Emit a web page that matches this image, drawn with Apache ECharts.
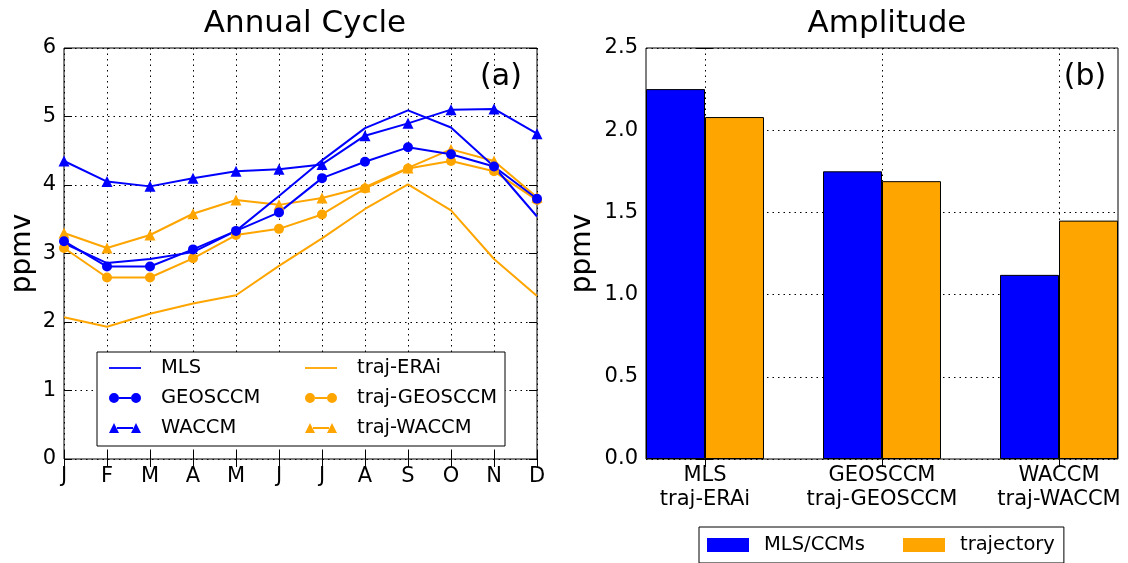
<!DOCTYPE html>
<html>
<head>
<meta charset="utf-8">
<script src="https://cdn.jsdelivr.net/npm/echarts@6/dist/echarts.min.js"></script>
<style>
html,body{margin:0;padding:0;background:#fff;}
#chart{width:1128px;height:563px;}
</style>
</head>
<body>
<div id="chart"></div>
<script>
// ---- data ----
const months = ['J','F','M','A','M','J','J','A','S','O','N','D'];
const mls          = [3.15, 2.86, 2.92, 3.02, 3.33, 3.84, 4.36, 4.83, 5.09, 4.84, 4.27, 3.54];
const geosccm      = [3.18, 2.81, 2.81, 3.06, 3.33, 3.60, 4.10, 4.34, 4.55, 4.45, 4.27, 3.80];
const waccm        = [4.35, 4.05, 3.98, 4.10, 4.20, 4.23, 4.30, 4.72, 4.90, 5.10, 5.11, 4.75];
const trajERAi     = [2.07, 1.93, 2.12, 2.27, 2.39, 2.82, 3.22, 3.65, 4.01, 3.63, 2.92, 2.38];
const trajGEOSCCM  = [3.08, 2.65, 2.65, 2.93, 3.27, 3.36, 3.57, 3.95, 4.24, 4.35, 4.20, 3.78];
const trajWACCM    = [3.30, 3.08, 3.27, 3.58, 3.78, 3.71, 3.81, 3.97, 4.25, 4.52, 4.35, 3.82];

const ampCategories = ['MLS\ntraj-ERAi', 'GEOSCCM\ntraj-GEOSCCM', 'WACCM\ntraj-WACCM'];
const ampModels     = [2.25, 1.75, 1.12];
const ampTrajectory = [2.08, 1.69, 1.45];

const leftYTicks = [0, 6, 1];      // min, max, step
const rightYTicks = [0, 2.5, 0.5]; // min, max, step

// ---- styles ----
const FONT = 'DejaVu Sans';
const BLUE = '#0000ff';
const ORANGE = '#ffa500';
const gridLine = {show: true, lineStyle: {color: '#000', width: 1, type: [1.5, 4]}};
const tickIn = {show: true, inside: true, length: 8, lineStyle: {color: '#000', width: 1}};
const lbl = {color: '#000', fontFamily: FONT, fontSize: 21};
const bigText = {fontFamily: FONT, fontSize: 31, fontWeight: 'normal', color: '#000'};
const LEG = 19.5;

// legend icons (line with a marker at each end, like matplotlib)
const ICON_LINE = 'path://M0,0M0,12M0,5.1L32,5.1L32,6.9L0,6.9Z';
const ICON_CIRCLE = 'path://M0,0M0,12M0,6a5,5 0 1,0 10,0a5,5 0 1,0 -10,0ZM22,6a5,5 0 1,0 10,0a5,5 0 1,0 -10,0ZM10,5.1L22,5.1L22,6.9L10,6.9Z';
const ICON_TRI = 'path://M0,0M0,12M0,11L5,1L10,11ZM22,11L27,1L32,11ZM8,5.1L24,5.1L24,6.9L8,6.9Z';

const chart = echarts.init(document.getElementById('chart'), null, {renderer: 'canvas'});

function lineSeries(name, data, color, symbol) {
  return {
    name: name, type: 'line', xAxisIndex: 0, yAxisIndex: 0, data: data,
    symbol: symbol || 'none', symbolSize: symbol === 'triangle' ? 11 : 10,
    showSymbol: !!symbol,
    lineStyle: {color: color, width: 2},
    itemStyle: {color: color},
    emphasis: {disabled: true},
    animation: false
  };
}

const ampIdx = ampCategories.map((_, i) => i);
const rt = (extra) => Object.assign({fontFamily: FONT, fontSize: LEG, lineHeight: 22, color: '#000'}, extra);

const option = {
  animation: false,
  backgroundColor: '#fff',
  textStyle: {fontFamily: FONT},
  title: [
    {text: 'Annual Cycle', left: 300, top: 3, textAlign: 'center', textStyle: bigText},
    {text: 'Amplitude', left: 882, top: 3, textAlign: 'center', textStyle: bigText},
    {text: '(a)', left: 496, top: 57, textAlign: 'center', textStyle: Object.assign({}, bigText, {fontSize: 30})},
    {text: '(b)', left: 1080, top: 57, textAlign: 'center', textStyle: Object.assign({}, bigText, {fontSize: 30})}
  ],
  grid: [
    {left: 64, top: 48, width: 473, height: 411, show: true, borderColor: '#000', borderWidth: 1, backgroundColor: 'transparent'},
    {left: 646, top: 48, width: 472, height: 411, show: true, borderColor: '#000', borderWidth: 1, backgroundColor: 'transparent'}
  ],
  legend: [
    {
      data: [
        {name: 'MLS', icon: ICON_LINE},
        {name: 'traj-ERAi', icon: ICON_LINE},
        {name: 'GEOSCCM', icon: ICON_CIRCLE},
        {name: 'traj-GEOSCCM', icon: ICON_CIRCLE},
        {name: 'WACCM', icon: ICON_TRI},
        {name: 'traj-WACCM', icon: ICON_TRI}
      ],
      left: 97, top: 352, orient: 'horizontal', width: 400,
      itemWidth: 32, itemHeight: 12, itemGap: 10,
      padding: [6, 8, 8, 12],
      borderColor: '#000', borderWidth: 1, backgroundColor: '#fff',
      selectedMode: false,
      itemStyle: {borderWidth: 0},
      formatter: function (name) {
        return name.indexOf('traj') === 0 ? '{c|' + name + '}' : '{a|' + name + '}';
      },
      textStyle: {
        fontFamily: FONT, fontSize: LEG, color: '#000',
        rich: {
          a: rt({width: 134, padding: [0, 0, 0, 15]}),
          c: rt({width: 140, padding: [0, 0, 0, 15]})
        }
      }
    },
    {
      data: ['MLS/CCMs', 'trajectory'],
      left: 699, top: 527, orient: 'horizontal',
      itemWidth: 42, itemHeight: 14, itemGap: 10, icon: 'rect',
      padding: [8, 9, 8, 8],
      borderColor: '#000', borderWidth: 1, backgroundColor: '#fff',
      selectedMode: false,
      itemStyle: {borderWidth: 0},
      formatter: function (name) {
        return name === 'MLS/CCMs' ? '{b|' + name + '}' : '{d|' + name + '}';
      },
      textStyle: {
        fontFamily: FONT, fontSize: LEG, color: '#000',
        rich: {
          b: rt({width: 129, padding: [0, 0, 0, 10]}),
          d: rt({padding: [0, 0, 0, 10]})
        }
      }
    }
  ],
  xAxis: [
    {gridIndex: 0, type: 'category', data: months, boundaryGap: false,
     axisLine: {show: false}, axisTick: tickIn,
     axisLabel: Object.assign({margin: 7, interval: 0}, lbl),
     splitLine: Object.assign({interval: 0}, gridLine)},
    {gridIndex: 0, type: 'category', data: months, boundaryGap: false, position: 'top',
     axisLine: {show: false}, axisTick: tickIn, axisLabel: {show: false}, splitLine: {show: false}},
    {gridIndex: 1, type: 'value', min: -1 / 3, max: 7 / 3,
     axisLine: {show: false},
     axisTick: Object.assign({customValues: ampIdx}, tickIn),
     axisLabel: Object.assign({customValues: ampIdx, margin: 5, lineHeight: 24,
       formatter: function (v) { return ampCategories[Math.round(v)]; }}, lbl),
     splitLine: gridLine},
    {gridIndex: 1, type: 'value', min: -1 / 3, max: 7 / 3, position: 'top',
     axisLine: {show: false},
     axisTick: Object.assign({customValues: ampIdx}, tickIn),
     axisLabel: {show: false}, splitLine: {show: false}}
  ],
  yAxis: [
    {gridIndex: 0, type: 'value', min: leftYTicks[0], max: leftYTicks[1], interval: leftYTicks[2],
     axisLine: {show: false}, axisTick: tickIn,
     axisLabel: Object.assign({margin: 8}, lbl),
     splitLine: gridLine,
     name: 'ppmv', nameLocation: 'middle', nameRotate: 90, nameGap: 27,
     nameTextStyle: {fontFamily: FONT, fontSize: 28, color: '#000'}},
    {gridIndex: 0, type: 'value', min: leftYTicks[0], max: leftYTicks[1], interval: leftYTicks[2], position: 'right',
     axisLine: {show: false}, axisTick: tickIn, axisLabel: {show: false}, splitLine: {show: false}},
    {gridIndex: 1, type: 'value', min: rightYTicks[0], max: rightYTicks[1], interval: rightYTicks[2],
     axisLine: {show: false}, axisTick: tickIn,
     axisLabel: Object.assign({margin: 8, formatter: function (v) { return v.toFixed(1); }}, lbl),
     splitLine: gridLine,
     name: 'ppmv', nameLocation: 'middle', nameRotate: 90, nameGap: 49,
     nameTextStyle: {fontFamily: FONT, fontSize: 28, color: '#000'}},
    {gridIndex: 1, type: 'value', min: rightYTicks[0], max: rightYTicks[1], interval: rightYTicks[2], position: 'right',
     axisLine: {show: false}, axisTick: tickIn, axisLabel: {show: false}, splitLine: {show: false}}
  ],
  series: [
    lineSeries('traj-ERAi', trajERAi, ORANGE),
    lineSeries('traj-GEOSCCM', trajGEOSCCM, ORANGE, 'circle'),
    lineSeries('traj-WACCM', trajWACCM, ORANGE, 'triangle'),
    lineSeries('MLS', mls, BLUE),
    lineSeries('GEOSCCM', geosccm, BLUE, 'circle'),
    lineSeries('WACCM', waccm, BLUE, 'triangle'),
    {name: 'MLS/CCMs', type: 'bar', xAxisIndex: 2, yAxisIndex: 2,
     data: ampModels.map((v, i) => [i, v]), barWidth: '33.333%', barGap: '0%',
     itemStyle: {color: BLUE, borderColor: '#000', borderWidth: 1}, emphasis: {disabled: true}},
    {name: 'trajectory', type: 'bar', xAxisIndex: 2, yAxisIndex: 2,
     data: ampTrajectory.map((v, i) => [i, v]), barWidth: '33.333%', barGap: '0%',
     itemStyle: {color: ORANGE, borderColor: '#000', borderWidth: 1}, emphasis: {disabled: true}}
  ]
};
chart.setOption(option);
</script>
</body>
</html>
